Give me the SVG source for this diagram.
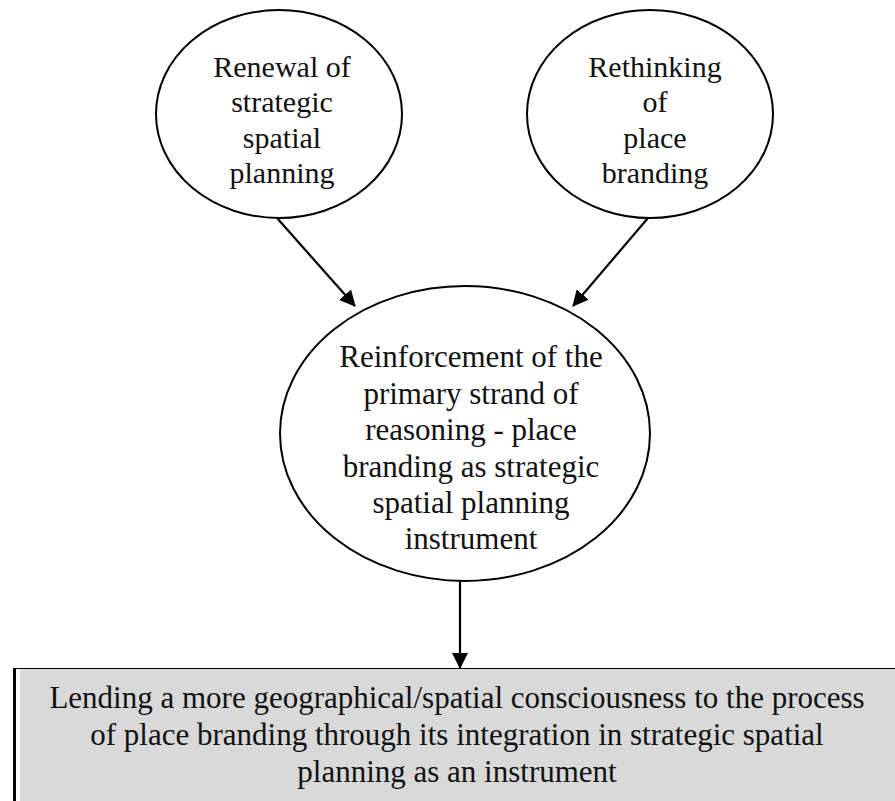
<svg xmlns="http://www.w3.org/2000/svg" width="895" height="801" viewBox="0 0 895 801">
<style>
.n{fill:#fff;stroke:#000;stroke-width:2}
.t{font-family:"Liberation Serif","Times New Roman",serif;font-size:30px;fill:#111;text-anchor:middle}
.b{font-size:31px}
.c{stroke:#000;stroke-width:2.2;fill:none}
</style>
<defs>
<marker id="ah" markerWidth="16" markerHeight="16" refX="15" refY="8" orient="auto" markerUnits="userSpaceOnUse" viewBox="0 0 16 16">
<path d="M0,0 L16,8 L0,16 Z" fill="#000"/>
</marker>
</defs>
<rect width="895" height="801" fill="#fff"/>
<g id="node-renewal">
<ellipse class="n" cx="279" cy="114" rx="123" ry="104"/>
<text class="t" x="282"><tspan x="282" y="77">Renewal of</tspan><tspan x="282" y="112">strategic</tspan><tspan x="282" y="148">spatial</tspan><tspan x="282" y="183">planning</tspan></text>
</g>
<g id="node-rethinking">
<ellipse class="n" cx="650" cy="114" rx="123" ry="104"/>
<text class="t" x="655"><tspan x="655" y="77">Rethinking</tspan><tspan x="655" y="112">of</tspan><tspan x="655" y="148">place</tspan><tspan x="655" y="183">branding</tspan></text>
</g>
<g id="node-reinforcement">
<ellipse class="n" cx="465" cy="433.5" rx="185" ry="147.5"/>
<text class="t b" x="471"><tspan x="471" y="367">Reinforcement of the</tspan><tspan x="471" y="403.5">primary strand of</tspan><tspan x="471" y="440">reasoning - place</tspan><tspan x="471" y="476.5">branding as strategic</tspan><tspan x="471" y="513">spatial planning</tspan><tspan x="471" y="549">instrument</tspan></text>
</g>
<g id="node-lending">
<rect x="14" y="668.5" width="890" height="140" fill="#fff" stroke="#000" stroke-width="1"/>
<rect x="20" y="669" width="880" height="140" fill="#d9d9d9"/>
<line x1="14.5" y1="668" x2="14.5" y2="801" stroke="#000" stroke-width="3"/>
<text class="t b"><tspan x="457" y="708">Lending a more geographical/spatial consciousness to the process</tspan><tspan x="457" y="745">of place branding through its integration in strategic spatial</tspan><tspan x="457" y="782">planning as an instrument</tspan></text>
</g>
<g id="connectors">
<line class="c" x1="277" y1="218" x2="355" y2="306" marker-end="url(#ah)"/>
<line class="c" x1="648" y1="218" x2="573" y2="306" marker-end="url(#ah)"/>
<line class="c" x1="460" y1="581" x2="460" y2="668" marker-end="url(#ah)"/>
</g>
</svg>
